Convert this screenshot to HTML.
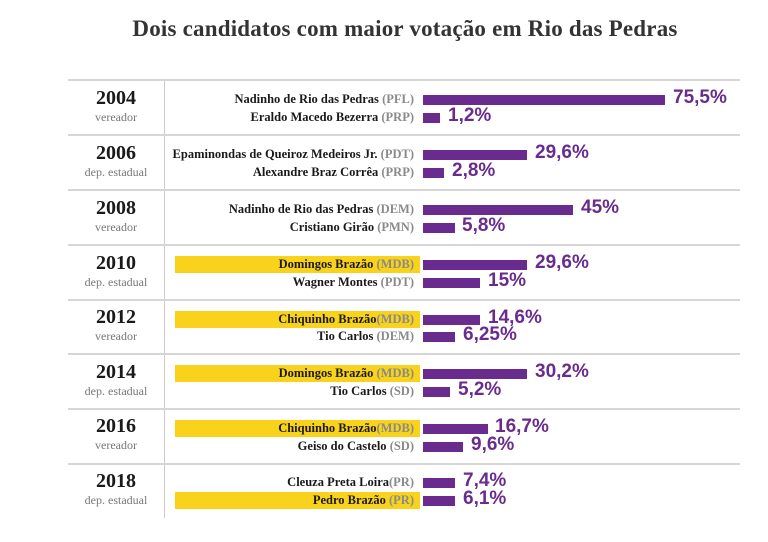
<!DOCTYPE html>
<html><head><meta charset="utf-8"><style>
body{margin:0;width:768px;height:542px;background:#fff;position:relative;overflow:hidden;font-family:"Liberation Serif",serif}
.t{position:absolute;left:0;width:810px;text-align:center;top:16px;font-size:23px;color:#333;font-weight:bold;letter-spacing:0.2px}
.h{position:absolute;left:68px;width:672px;height:2px;background:#d6d6d6}
.v{position:absolute;left:164px;top:80px;width:1px;height:438px;background:#ccc}
.yr{position:absolute;left:70px;width:92px;text-align:center;font-size:20px;font-weight:bold;color:#1a1a1a}
.sub{position:absolute;left:70px;width:92px;text-align:center;font-size:12px;color:#777}
.y{position:absolute;left:175px;width:245px;height:17px;background:#f9d21c}
.n{position:absolute;right:354px;font-size:12.5px;font-weight:bold;color:#1a1a1a;white-space:nowrap}
.n span{color:#8a8a8a}
.b{position:absolute;left:423px;height:10px;background:#6a2b8f}
.p{position:absolute;font-family:"Liberation Sans",sans-serif;font-size:19px;font-weight:bold;color:#6a2b8f}
</style></head><body>
<div class="t">Dois candidatos com maior votação em Rio das Pedras</div>
<div class="v"></div>
<div class="h" style="top:79px"></div>
<div class="h" style="top:134px"></div>
<div class="h" style="top:189px"></div>
<div class="h" style="top:244px"></div>
<div class="h" style="top:299px"></div>
<div class="h" style="top:353px"></div>
<div class="h" style="top:408px"></div>
<div class="h" style="top:463px"></div>

<div class="yr" style="top:87px">2004</div><div class="sub" style="top:110px">vereador</div>
<div class="yr" style="top:142px">2006</div><div class="sub" style="top:165px">dep. estadual</div>
<div class="yr" style="top:197px">2008</div><div class="sub" style="top:220px">vereador</div>
<div class="yr" style="top:252px">2010</div><div class="sub" style="top:275px">dep. estadual</div>
<div class="yr" style="top:306px">2012</div><div class="sub" style="top:329px">vereador</div>
<div class="yr" style="top:361px">2014</div><div class="sub" style="top:384px">dep. estadual</div>
<div class="yr" style="top:415px">2016</div><div class="sub" style="top:438px">vereador</div>
<div class="yr" style="top:470px">2018</div><div class="sub" style="top:493px">dep. estadual</div>

<div class="y" style="top:256px"></div>
<div class="y" style="top:311px"></div>
<div class="y" style="top:365px"></div>
<div class="y" style="top:420px"></div>
<div class="y" style="top:492px"></div>

<div class="n" style="top:92px">Nadinho de Rio das Pedras <span>(PFL)</span></div>
<div class="n" style="top:110px">Eraldo Macedo Bezerra <span>(PRP)</span></div>
<div class="n" style="top:147px">Epaminondas de Queiroz Medeiros Jr. <span>(PDT)</span></div>
<div class="n" style="top:165px">Alexandre Braz Corrêa <span>(PRP)</span></div>
<div class="n" style="top:202px">Nadinho de Rio das Pedras <span>(DEM)</span></div>
<div class="n" style="top:220px">Cristiano Girão <span>(PMN)</span></div>
<div class="n" style="top:257px">Domingos Brazão <span>(MDB)</span></div>
<div class="n" style="top:275px">Wagner Montes <span>(PDT)</span></div>
<div class="n" style="top:312px">Chiquinho Brazão<span>(MDB)</span></div>
<div class="n" style="top:329px">Tio Carlos <span>(DEM)</span></div>
<div class="n" style="top:366px">Domingos Brazão <span>(MDB)</span></div>
<div class="n" style="top:384px">Tio Carlos <span>(SD)</span></div>
<div class="n" style="top:421px">Chiquinho Brazão<span>(MDB)</span></div>
<div class="n" style="top:439px">Geiso do Castelo <span>(SD)</span></div>
<div class="n" style="top:475px">Cleuza Preta Loira<span>(PR)</span></div>
<div class="n" style="top:493px">Pedro Brazão <span>(PR)</span></div>

<div class="b" style="top:95px;width:242px"></div><div class="p" style="top:87px;left:673px">75,5%</div>
<div class="b" style="top:113px;width:17px"></div><div class="p" style="top:105px;left:448px">1,2%</div>
<div class="b" style="top:150px;width:104px"></div><div class="p" style="top:142px;left:535px">29,6%</div>
<div class="b" style="top:168px;width:21px"></div><div class="p" style="top:160px;left:452px">2,8%</div>
<div class="b" style="top:205px;width:150px"></div><div class="p" style="top:197px;left:581px">45%</div>
<div class="b" style="top:223px;width:32px"></div><div class="p" style="top:215px;left:462px">5,8%</div>
<div class="b" style="top:260px;width:104px"></div><div class="p" style="top:252px;left:535px">29,6%</div>
<div class="b" style="top:278px;width:57px"></div><div class="p" style="top:270px;left:488px">15%</div>
<div class="b" style="top:315px;width:57px"></div><div class="p" style="top:307px;left:488px">14,6%</div>
<div class="b" style="top:332px;width:32px"></div><div class="p" style="top:324px;left:463px">6,25%</div>
<div class="b" style="top:369px;width:104px"></div><div class="p" style="top:361px;left:535px">30,2%</div>
<div class="b" style="top:387px;width:27px"></div><div class="p" style="top:379px;left:458px">5,2%</div>
<div class="b" style="top:424px;width:65px"></div><div class="p" style="top:416px;left:495px">16,7%</div>
<div class="b" style="top:442px;width:40px"></div><div class="p" style="top:434px;left:471px">9,6%</div>
<div class="b" style="top:478px;width:32px"></div><div class="p" style="top:470px;left:463px">7,4%</div>
<div class="b" style="top:496px;width:32px"></div><div class="p" style="top:488px;left:463px">6,1%</div>
</body></html>
